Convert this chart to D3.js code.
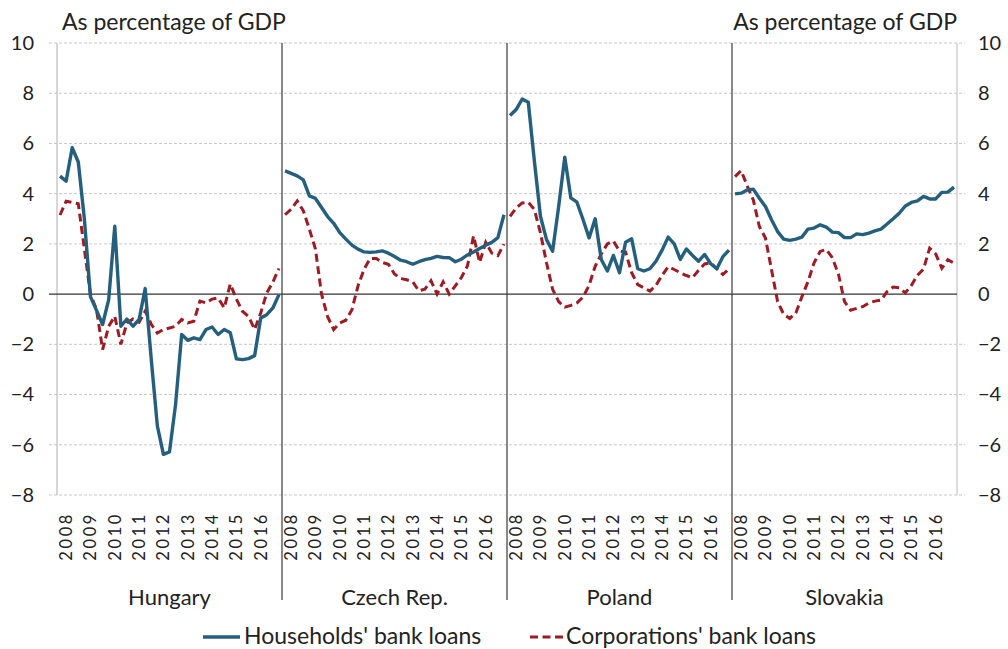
<!DOCTYPE html>
<html>
<head>
<meta charset="utf-8">
<script src="https://cdn.jsdelivr.net/npm/d3@7/dist/d3.min.js"></script>
<style>
  body { margin: 0; background: #fff; }
  svg text { font-family: Lato, "Open Sans", sans-serif; fill: #222; }
</style>
</head>
<body>
<svg id="chart" width="1008" height="649"></svg>
<script>
// categories
var countries = ['Hungary', 'Czech Rep.', 'Poland', 'Slovakia'];
var years = ['2008', '2009', '2010', '2011', '2012', '2013', '2014', '2015', '2016'];
var yTicks = [-8, -6, -4, -2, 0, 2, 4, 6, 8, 10];
var seriesNames = ["Households' bank loans", "Corporations' bank loans"];

// quarterly values, 2008Q1 .. 2017Q1, as percentage of GDP
var huHouseholds = [4.70, 4.50, 5.83, 5.26, 3.0, -0.1, -0.65, -1.21, -0.22, 2.70,
  -1.28, -0.99, -1.28, -1.01, 0.22, -2.6, -5.25, -6.38, -6.28, -4.39,
  -1.61, -1.84, -1.74, -1.81, -1.41, -1.31, -1.61, -1.41, -1.54, -2.58,
  -2.61, -2.57, -2.45, -0.95, -0.82, -0.55, -0.02];
var huCorporations = [3.15, 3.70, 3.65, 3.60, 1.8, 0.0, -0.62, -2.21, -1.28, -0.88,
  -2.0, -1.15, -0.99, -1.12, -0.68, -1.2, -1.55, -1.41, -1.35, -1.28,
  -1.01, -1.15, -1.08, -0.28, -0.35, -0.2, -0.15, -0.55, 0.4, -0.2,
  -0.68, -0.89, -1.41, -0.75, 0.05, 0.48, 1.02];
var czHouseholds = [4.91, 4.81, 4.71, 4.55, 3.91, 3.81, 3.45, 3.09, 2.82, 2.45,
  2.19, 1.95, 1.79, 1.68, 1.66, 1.68, 1.72, 1.63, 1.50, 1.35,
  1.29, 1.19, 1.29, 1.37, 1.42, 1.50, 1.46, 1.45, 1.29, 1.39,
  1.56, 1.68, 1.82, 1.95, 2.06, 2.25, 3.16];
var czCorporations = [3.16, 3.38, 3.71, 3.32, 2.59, 1.79, 0.0, -0.9, -1.41, -1.15,
  -1.04, -0.62, 0.33, 0.99, 1.42, 1.42, 1.26, 1.19, 0.80, 0.62,
  0.57, 0.49, 0.13, 0.20, 0.53, 0.0, 0.49, 0.0, 0.33, 0.66,
  1.13, 2.32, 1.26, 2.06, 1.63, 1.53, 1.99];
var plHouseholds = [7.11, 7.35, 7.77, 7.64, 5.3, 3.10, 2.17, 1.71, 3.50, 5.45,
  3.83, 3.66, 2.97, 2.24, 3.0, 1.38, 0.92, 1.54, 0.85, 2.07,
  2.20, 1.01, 0.92, 1.01, 1.31, 1.75, 2.27, 2.0, 1.38, 1.80,
  1.54, 1.31, 1.58, 1.21, 1.01, 1.49, 1.75];
var plCorporations = [3.10, 3.43, 3.63, 3.66, 3.37, 2.44, 1.25, 0.19, -0.3, -0.52,
  -0.45, -0.35, -0.12, 0.35, 1.11, 1.6, 2.0, 2.11, 1.71, 1.67,
  0.85, 0.38, 0.25, 0.12, 0.35, 0.75, 1.09, 0.98, 0.85, 0.74,
  0.65, 0.95, 1.2, 1.25, 1.01, 0.78, 1.0];
var skHouseholds = [3.99, 4.02, 4.15, 4.18, 3.82, 3.49, 2.96, 2.49, 2.19, 2.14,
  2.19, 2.27, 2.59, 2.63, 2.76, 2.67, 2.47, 2.45, 2.25, 2.25,
  2.40, 2.37, 2.43, 2.52, 2.59, 2.79, 3.00, 3.22, 3.51, 3.65,
  3.71, 3.89, 3.79, 3.79, 4.05, 4.06, 4.26];
var skCorporations = [4.68, 4.92, 4.31, 3.75, 2.69, 2.23, 0.97, -0.3, -0.8, -0.97,
  -0.75, -0.1, 0.5, 1.25, 1.70, 1.78, 1.45, 0.8, -0.3, -0.64,
  -0.57, -0.5, -0.35, -0.28, -0.24, 0.1, 0.28, 0.25, 0.05, 0.35,
  0.75, 1.0, 1.83, 1.6, 1.03, 1.37, 1.23];

var quarters = [];
years.forEach(function(yr) { ['Q1', 'Q2', 'Q3', 'Q4'].forEach(function(q) { quarters.push(yr + q); }); });
quarters.push('2017Q1');

var panels = [
  { name: countries[0], hh: huHouseholds, corp: huCorporations },
  { name: countries[1], hh: czHouseholds, corp: czCorporations },
  { name: countries[2], hh: plHouseholds, corp: plCorporations },
  { name: countries[3], hh: skHouseholds, corp: skCorporations }
];

var blue = '#245f7e', red = '#9e1b24';
var plotL = 57, plotR = 957, plotT = 43, plotB = 495;

var svg = d3.select('#chart');

var keys = [];
countries.forEach(function(c) { quarters.forEach(function(q) { keys.push(c + '|' + q); }); });

var x = d3.scaleBand().domain(keys).range([plotL, plotR]).padding(0);
var bw = x.bandwidth();
var y = d3.scaleLinear().domain([-8, 10]).range([plotB, plotT]);

// gridlines
svg.append('g').attr('class', 'grid')
  .selectAll('line')
  .data(yTicks.filter(function(t) { return t !== 0; }))
  .enter().append('line')
  .attr('x1', plotL - 8).attr('x2', plotR + 8)
  .attr('y1', function(d) { return y(d); })
  .attr('y2', function(d) { return y(d); })
  .attr('stroke', '#c8c8c8').attr('stroke-width', 1)
  .attr('stroke-dasharray', '3,2');

// side axis lines
svg.append('line').attr('x1', plotL).attr('x2', plotL).attr('y1', plotT).attr('y2', plotB)
  .attr('stroke', '#bdbdbd').attr('stroke-width', 1.2);
svg.append('line').attr('x1', plotR).attr('x2', plotR).attr('y1', plotT).attr('y2', plotB)
  .attr('stroke', '#d0d0d0').attr('stroke-width', 1.5);

// y axes
var yl = svg.append('g').attr('transform', 'translate(' + plotL + ',0)')
  .call(d3.axisLeft(y).tickValues(yTicks).tickSize(0).tickPadding(23));
var yr = svg.append('g').attr('transform', 'translate(' + plotR + ',0)')
  .call(d3.axisRight(y).tickValues(yTicks).tickSize(0).tickPadding(21));
[yl, yr].forEach(function(g) {
  g.attr('font-family', null).attr('font-size', null);
  g.select('.domain').remove();
  g.selectAll('text').style('font-size', '20px');
});

// zero line
svg.append('line').attr('x1', plotL - 8).attr('x2', plotR)
  .attr('y1', y(0)).attr('y2', y(0))
  .attr('stroke', '#333').attr('stroke-width', 1.2);

// panel separators
svg.append('g').selectAll('line')
  .data(countries.slice(1))
  .enter().append('line')
  .attr('x1', function(c) { return x(c + '|' + quarters[0]); })
  .attr('x2', function(c) { return x(c + '|' + quarters[0]); })
  .attr('y1', plotT).attr('y2', 600)
  .attr('stroke', '#3a3a3a').attr('stroke-width', 1.2);

// year labels
panels.forEach(function(p) {
  svg.append('g').selectAll('text')
    .data(years)
    .enter().append('text')
    .attr('transform', function(yrs) {
      var cx = (x(p.name + '|' + yrs + 'Q1') + x(p.name + '|' + yrs + 'Q4') + bw) / 2 - 3;
      return 'translate(' + cx + ',512) rotate(-90)';
    })
    .attr('text-anchor', 'end')
    .attr('dy', '0.36em')
    .style('font-size', '16.5px')
    .style('letter-spacing', '2.6px')
    .text(function(d) { return d; });
});

// country labels
svg.append('g').selectAll('text')
  .data(countries)
  .enter().append('text')
  .attr('x', function(c) { return x(c + '|' + quarters[0]) + bw * quarters.length / 2; })
  .attr('y', 605)
  .attr('text-anchor', 'middle')
  .style('font-size', '22px')
  .text(function(d) { return d; });

// lines
var line = d3.line()
  .x(function(d) { return x(d.key) + bw / 2; })
  .y(function(d) { return y(d.v); });

panels.forEach(function(p) {
  var hh = p.hh.map(function(v, i) { return { key: p.name + '|' + quarters[i], v: v }; });
  var corp = p.corp.map(function(v, i) { return { key: p.name + '|' + quarters[i], v: v }; });
  svg.append('path').datum(corp)
    .attr('d', line).attr('fill', 'none')
    .attr('stroke', red).attr('stroke-width', 3)
    .attr('stroke-dasharray', '8,4.5');
  svg.append('path').datum(hh)
    .attr('d', line).attr('fill', 'none')
    .attr('stroke', blue).attr('stroke-width', 3.4)
    .attr('stroke-linejoin', 'round');
});

// titles
svg.append('text').attr('x', 62).attr('y', 30).style('font-size', '23px')
  .text('As percentage of GDP');
svg.append('text').attr('x', 957).attr('y', 30).attr('text-anchor', 'end').style('font-size', '23px')
  .text('As percentage of GDP');

// legend
var legend = svg.append('g');
legend.append('line').attr('x1', 203).attr('x2', 240).attr('y1', 637).attr('y2', 637)
  .attr('stroke', blue).attr('stroke-width', 3.4);
legend.append('text').attr('x', 244).attr('y', 644).style('font-size', '23px').text(seriesNames[0]);
legend.append('line').attr('x1', 530).attr('x2', 563).attr('y1', 637).attr('y2', 637)
  .attr('stroke', red).attr('stroke-width', 3).attr('stroke-dasharray', '8,4.5');
legend.append('text').attr('x', 566).attr('y', 644).style('font-size', '23px').text(seriesNames[1]);
</script>
</body>
</html>
